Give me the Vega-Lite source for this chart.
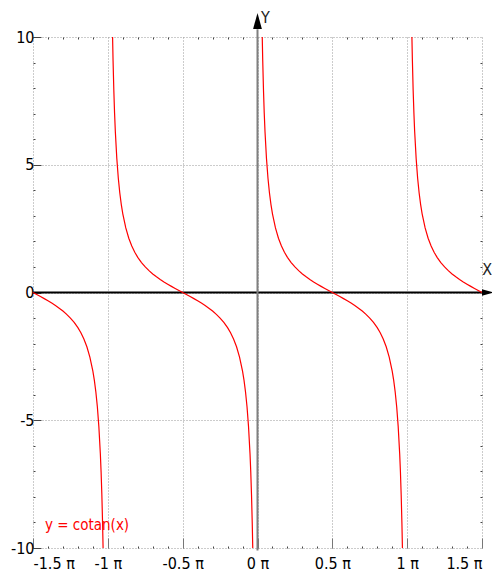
{
  "$schema": "https://vega.github.io/schema/vega-lite/v6.json",
  "width": 449,
  "height": 511,
  "autosize": {"type": "none"},
  "padding": {"left": 33, "top": 37, "right": 10, "bottom": 27},
  "background": "white",
  "config": {
    "view": {"stroke": null},
    "font": "'Liberation Sans Narrow', 'DejaVu Sans Condensed', 'Liberation Sans', sans-serif"
  },
  "datasets": {
    "curve": [
      {"x": 0.0317, "y": 10, "b": "A"}, {"x": 0.035, "y": 9.058, "b": "A"}, {"x": 0.04, "y": 7.916, "b": "A"}, {"x": 0.045, "y": 7.026, "b": "A"}, {"x": 0.05, "y": 6.314, "b": "A"}, {"x": 0.06, "y": 5.242, "b": "A"}, {"x": 0.07, "y": 4.474, "b": "A"}, {"x": 0.08, "y": 3.895, "b": "A"}, {"x": 0.09, "y": 3.442, "b": "A"}, {"x": 0.1, "y": 3.078, "b": "A"}, {"x": 0.12, "y": 2.526, "b": "A"}, {"x": 0.14, "y": 2.125, "b": "A"}, {"x": 0.16, "y": 1.819, "b": "A"}, {"x": 0.18, "y": 1.576, "b": "A"}, {"x": 0.2, "y": 1.376, "b": "A"}, {"x": 0.225, "y": 1.171, "b": "A"}, {"x": 0.25, "y": 1, "b": "A"}, {"x": 0.275, "y": 0.854, "b": "A"}, {"x": 0.3, "y": 0.727, "b": "A"}, {"x": 0.325, "y": 0.613, "b": "A"}, {"x": 0.35, "y": 0.51, "b": "A"}, {"x": 0.375, "y": 0.414, "b": "A"}, {"x": 0.4, "y": 0.325, "b": "A"}, {"x": 0.425, "y": 0.24, "b": "A"}, {"x": 0.45, "y": 0.158, "b": "A"}, {"x": 0.475, "y": 0.079, "b": "A"}, {"x": 0.5, "y": 0, "b": "A"}, {"x": 0.525, "y": -0.079, "b": "A"}, {"x": 0.55, "y": -0.158, "b": "A"}, {"x": 0.575, "y": -0.24, "b": "A"}, {"x": 0.6, "y": -0.325, "b": "A"}, {"x": 0.625, "y": -0.414, "b": "A"}, {"x": 0.65, "y": -0.51, "b": "A"}, {"x": 0.675, "y": -0.613, "b": "A"}, {"x": 0.7, "y": -0.727, "b": "A"}, {"x": 0.725, "y": -0.854, "b": "A"}, {"x": 0.75, "y": -1, "b": "A"}, {"x": 0.775, "y": -1.171, "b": "A"}, {"x": 0.8, "y": -1.376, "b": "A"}, {"x": 0.82, "y": -1.576, "b": "A"}, {"x": 0.84, "y": -1.819, "b": "A"}, {"x": 0.86, "y": -2.125, "b": "A"}, {"x": 0.88, "y": -2.526, "b": "A"}, {"x": 0.9, "y": -3.078, "b": "A"}, {"x": 0.91, "y": -3.442, "b": "A"}, {"x": 0.92, "y": -3.895, "b": "A"}, {"x": 0.93, "y": -4.474, "b": "A"}, {"x": 0.94, "y": -5.242, "b": "A"}, {"x": 0.95, "y": -6.314, "b": "A"}, {"x": 0.955, "y": -7.026, "b": "A"}, {"x": 0.96, "y": -7.916, "b": "A"}, {"x": 0.965, "y": -9.058, "b": "A"}, {"x": 0.9683, "y": -10, "b": "A"},

      {"x": -0.9683, "y": 10, "b": "B"}, {"x": -0.965, "y": 9.058, "b": "B"}, {"x": -0.96, "y": 7.916, "b": "B"}, {"x": -0.955, "y": 7.026, "b": "B"}, {"x": -0.95, "y": 6.314, "b": "B"}, {"x": -0.94, "y": 5.242, "b": "B"}, {"x": -0.93, "y": 4.474, "b": "B"}, {"x": -0.92, "y": 3.895, "b": "B"}, {"x": -0.91, "y": 3.442, "b": "B"}, {"x": -0.9, "y": 3.078, "b": "B"}, {"x": -0.88, "y": 2.526, "b": "B"}, {"x": -0.86, "y": 2.125, "b": "B"}, {"x": -0.84, "y": 1.819, "b": "B"}, {"x": -0.82, "y": 1.576, "b": "B"}, {"x": -0.8, "y": 1.376, "b": "B"}, {"x": -0.775, "y": 1.171, "b": "B"}, {"x": -0.75, "y": 1, "b": "B"}, {"x": -0.725, "y": 0.854, "b": "B"}, {"x": -0.7, "y": 0.727, "b": "B"}, {"x": -0.675, "y": 0.613, "b": "B"}, {"x": -0.65, "y": 0.51, "b": "B"}, {"x": -0.625, "y": 0.414, "b": "B"}, {"x": -0.6, "y": 0.325, "b": "B"}, {"x": -0.575, "y": 0.24, "b": "B"}, {"x": -0.55, "y": 0.158, "b": "B"}, {"x": -0.525, "y": 0.079, "b": "B"}, {"x": -0.5, "y": 0, "b": "B"}, {"x": -0.475, "y": -0.079, "b": "B"}, {"x": -0.45, "y": -0.158, "b": "B"}, {"x": -0.425, "y": -0.24, "b": "B"}, {"x": -0.4, "y": -0.325, "b": "B"}, {"x": -0.375, "y": -0.414, "b": "B"}, {"x": -0.35, "y": -0.51, "b": "B"}, {"x": -0.325, "y": -0.613, "b": "B"}, {"x": -0.3, "y": -0.727, "b": "B"}, {"x": -0.275, "y": -0.854, "b": "B"}, {"x": -0.25, "y": -1, "b": "B"}, {"x": -0.225, "y": -1.171, "b": "B"}, {"x": -0.2, "y": -1.376, "b": "B"}, {"x": -0.18, "y": -1.576, "b": "B"}, {"x": -0.16, "y": -1.819, "b": "B"}, {"x": -0.14, "y": -2.125, "b": "B"}, {"x": -0.12, "y": -2.526, "b": "B"}, {"x": -0.1, "y": -3.078, "b": "B"}, {"x": -0.09, "y": -3.442, "b": "B"}, {"x": -0.08, "y": -3.895, "b": "B"}, {"x": -0.07, "y": -4.474, "b": "B"}, {"x": -0.06, "y": -5.242, "b": "B"}, {"x": -0.05, "y": -6.314, "b": "B"}, {"x": -0.045, "y": -7.026, "b": "B"}, {"x": -0.04, "y": -7.916, "b": "B"}, {"x": -0.035, "y": -9.058, "b": "B"}, {"x": -0.0317, "y": -10, "b": "B"},

      {"x": 1.0317, "y": 10, "b": "C"}, {"x": 1.035, "y": 9.058, "b": "C"}, {"x": 1.04, "y": 7.916, "b": "C"}, {"x": 1.045, "y": 7.026, "b": "C"}, {"x": 1.05, "y": 6.314, "b": "C"}, {"x": 1.06, "y": 5.242, "b": "C"}, {"x": 1.07, "y": 4.474, "b": "C"}, {"x": 1.08, "y": 3.895, "b": "C"}, {"x": 1.09, "y": 3.442, "b": "C"}, {"x": 1.1, "y": 3.078, "b": "C"}, {"x": 1.12, "y": 2.526, "b": "C"}, {"x": 1.14, "y": 2.125, "b": "C"}, {"x": 1.16, "y": 1.819, "b": "C"}, {"x": 1.18, "y": 1.576, "b": "C"}, {"x": 1.2, "y": 1.376, "b": "C"}, {"x": 1.225, "y": 1.171, "b": "C"}, {"x": 1.25, "y": 1, "b": "C"}, {"x": 1.275, "y": 0.854, "b": "C"}, {"x": 1.3, "y": 0.727, "b": "C"}, {"x": 1.325, "y": 0.613, "b": "C"}, {"x": 1.35, "y": 0.51, "b": "C"}, {"x": 1.375, "y": 0.414, "b": "C"}, {"x": 1.4, "y": 0.325, "b": "C"}, {"x": 1.425, "y": 0.24, "b": "C"}, {"x": 1.45, "y": 0.158, "b": "C"}, {"x": 1.475, "y": 0.079, "b": "C"}, {"x": 1.5, "y": 0, "b": "C"},

      {"x": -1.5, "y": 0, "b": "D"}, {"x": -1.475, "y": -0.079, "b": "D"}, {"x": -1.45, "y": -0.158, "b": "D"}, {"x": -1.425, "y": -0.24, "b": "D"}, {"x": -1.4, "y": -0.325, "b": "D"}, {"x": -1.375, "y": -0.414, "b": "D"}, {"x": -1.35, "y": -0.51, "b": "D"}, {"x": -1.325, "y": -0.613, "b": "D"}, {"x": -1.3, "y": -0.727, "b": "D"}, {"x": -1.275, "y": -0.854, "b": "D"}, {"x": -1.25, "y": -1, "b": "D"}, {"x": -1.225, "y": -1.171, "b": "D"}, {"x": -1.2, "y": -1.376, "b": "D"}, {"x": -1.18, "y": -1.576, "b": "D"}, {"x": -1.16, "y": -1.819, "b": "D"}, {"x": -1.14, "y": -2.125, "b": "D"}, {"x": -1.12, "y": -2.526, "b": "D"}, {"x": -1.1, "y": -3.078, "b": "D"}, {"x": -1.09, "y": -3.442, "b": "D"}, {"x": -1.08, "y": -3.895, "b": "D"}, {"x": -1.07, "y": -4.474, "b": "D"}, {"x": -1.06, "y": -5.242, "b": "D"}, {"x": -1.05, "y": -6.314, "b": "D"}, {"x": -1.045, "y": -7.026, "b": "D"}, {"x": -1.04, "y": -7.916, "b": "D"}, {"x": -1.035, "y": -9.058, "b": "D"}, {"x": -1.0317, "y": -10, "b": "D"}
    ]
  },
  "resolve": {"axis": {"x": "independent", "y": "independent"}},
  "layer": [
    {
      "data": {"values": [{"x": -1.5, "x2": 1.52, "y": 0}]},
      "mark": {"type": "rule", "color": "black", "strokeWidth": 2},
      "encoding": {
        "x": {"field": "x", "type": "quantitative", "scale": {"domain": [-1.5, 1.5], "nice": false, "zero": false},
          "axis": {"orient": "bottom", "values": [-1.4, -1.3, -1.2, -1.1, -0.9, -0.8, -0.7, -0.6, -0.4, -0.3, -0.2, -0.1, 0.1, 0.2, 0.3, 0.4, 0.6, 0.7, 0.8, 0.9, 1.1, 1.2, 1.3, 1.4], "labels": false, "grid": false, "domain": false, "ticks": true, "tickSize": -2, "tickColor": "#444", "title": null}},
        "x2": {"field": "x2"},
        "y": {"field": "y", "type": "quantitative", "scale": {"domain": [-10, 10], "nice": false, "zero": false},
          "axis": {"orient": "left", "values": [-9, -8, -7, -6, -4, -3, -2, -1, 1, 2, 3, 4, 6, 7, 8, 9], "labels": false, "grid": false, "domain": false, "ticks": true, "tickSize": -2, "tickColor": "#444", "title": null}}
      }
    },
    {
      "data": {"values": [{"x": 0, "y": -10.1, "y2": 10.3}]},
      "mark": {"type": "rule", "color": "#7f7f7f", "strokeWidth": 2},
      "encoding": {
        "x": {"field": "x", "type": "quantitative",
          "axis": {"orient": "top", "values": [-1.4, -1.3, -1.2, -1.1, -0.9, -0.8, -0.7, -0.6, -0.4, -0.3, -0.2, -0.1, 0.1, 0.2, 0.3, 0.4, 0.6, 0.7, 0.8, 0.9, 1.1, 1.2, 1.3, 1.4], "labels": false, "grid": false, "domain": false, "ticks": true, "tickSize": -2, "tickColor": "#444", "title": null}},
        "y": {"field": "y", "type": "quantitative",
          "axis": {"orient": "right", "values": [-9, -8, -7, -6, -4, -3, -2, -1, 1, 2, 3, 4, 6, 7, 8, 9], "labels": false, "grid": false, "domain": false, "ticks": true, "tickSize": -2, "tickColor": "#444", "title": null}},
        "y2": {"field": "y2"}
      }
    },
    {
      "data": {"name": "curve"},
      "mark": {"type": "line", "color": "#ff0000", "strokeWidth": 1.2},
      "encoding": {
        "x": {"field": "x", "type": "quantitative",
          "axis": {"orient": "bottom", "values": [-1.5, -1, -0.5, 0, 0.5, 1, 1.5], "labelExpr": "datum.value + ' π'", "labelFontSize": 16, "labelColor": "black", "labelPadding": 17, "grid": true, "gridDash": [1, 2], "gridColor": "#999", "gridOpacity": 1, "domain": false, "ticks": true, "tickSize": -10, "tickColor": "#777", "title": null}},
        "y": {"field": "y", "type": "quantitative",
          "axis": {"orient": "left", "values": [-10, -5, 0, 5, 10], "labelExpr": "datum.value + ''", "labelFontSize": 16, "labelColor": "black", "labelPadding": 7, "grid": true, "gridDash": [1, 2], "gridColor": "#999", "gridOpacity": 1, "domain": false, "ticks": true, "tickSize": -8, "tickColor": "#444", "title": null}},
        "detail": {"field": "b"}
      }
    },
    {
      "data": {"values": [{"x": 0, "y": 10.63, "s": "Y"}]},
      "mark": {"type": "point", "shape": "M0,-1L0.55,1L-0.55,1Z", "size": 256, "filled": true, "color": "black", "opacity": 1},
      "encoding": {
        "x": {"field": "x", "type": "quantitative", "axis": null},
        "y": {"field": "y", "type": "quantitative", "axis": null}
      }
    },
    {
      "data": {"values": [{"x": 1.54, "y": 0, "s": "X"}]},
      "mark": {"type": "point", "shape": "M1,0L-1,-0.55L-1,0.55Z", "size": 144, "filled": true, "color": "black", "opacity": 1},
      "encoding": {
        "x": {"field": "x", "type": "quantitative", "axis": null},
        "y": {"field": "y", "type": "quantitative", "axis": null}
      }
    },
    {
      "data": {"values": [{"x": 0.053, "y": 10.76, "t": "Y"}, {"x": 1.535, "y": 0.88, "t": "X"}]},
      "mark": {"type": "text", "fontSize": 16, "color": "#222", "align": "center", "baseline": "middle"},
      "encoding": {
        "x": {"field": "x", "type": "quantitative", "axis": null},
        "y": {"field": "y", "type": "quantitative", "axis": null},
        "text": {"field": "t"}
      }
    },
    {
      "data": {"values": [{"x": -1.42, "y": -9.1, "t": "y = cotan(x)"}]},
      "mark": {"type": "text", "fontSize": 15, "color": "#ff0000", "align": "left", "baseline": "middle"},
      "encoding": {
        "x": {"field": "x", "type": "quantitative", "axis": null},
        "y": {"field": "y", "type": "quantitative", "axis": null},
        "text": {"field": "t"}
      }
    }
  ]
}
